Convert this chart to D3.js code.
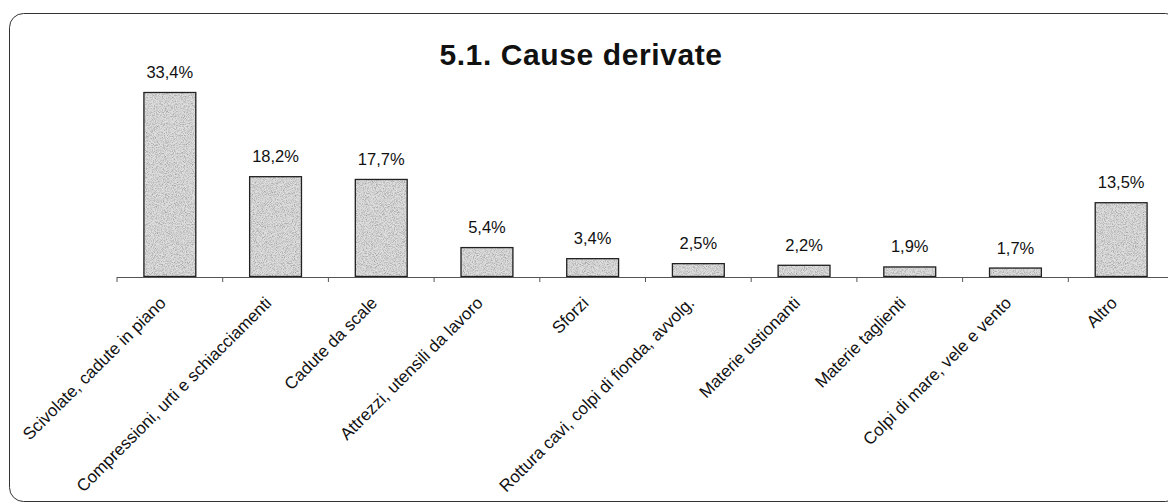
<!DOCTYPE html>
<html>
<head>
<meta charset="utf-8">
<script src="https://cdn.jsdelivr.net/npm/d3@7"></script>
<style>
  html, body { margin: 0; padding: 0; background: #fff; }
  svg { display: block; }
  text { font-family: Arial, "Liberation Sans", sans-serif; fill: #111; }
</style>
</head>
<body>
<svg id="chart" width="1168" height="504"></svg>
<script>
// Causes of injuries (share of total, %)
const categories = [
  "Scivolate, cadute in piano",
  "Compressioni, urti e schiacciamenti",
  "Cadute da scale",
  "Attrezzi, utensili da lavoro",
  "Sforzi",
  "Rottura cavi, colpi di fionda, avvolg.",
  "Materie ustionanti",
  "Materie taglienti",
  "Colpi di mare, vele e vento",
  "Altro"
];
const values = [33.4, 18.2, 17.7, 5.4, 3.4, 2.5, 2.2, 1.9, 1.7, 13.5];
const valueLabels = ["33,4%", "18,2%", "17,7%", "5,4%", "3,4%", "2,5%", "2,2%", "1,9%", "1,7%", "13,5%"];
const title = "5.1. Cause derivate";

const svg = d3.select("#chart");
const W = 1168, H = 504;

// speckled grey fill for the bars
const defs = svg.append("defs");
const f = defs.append("filter").attr("id", "speckle")
  .attr("x", 0).attr("y", 0).attr("width", 1).attr("height", 1);
f.append("feTurbulence").attr("type", "fractalNoise")
  .attr("baseFrequency", 1.1).attr("numOctaves", 2).attr("seed", 3).attr("result", "noise");
f.append("feColorMatrix").attr("in", "noise").attr("type", "matrix")
  .attr("values", "0 0 0 0 0.35  0 0 0 0 0.35  0 0 0 0 0.35  0 0 0 -2.2 1.35")
  .attr("result", "dots");
f.append("feFlood").attr("flood-color", "#dedede").attr("result", "base");
f.append("feComposite").attr("in", "dots").attr("in2", "base").attr("operator", "over").attr("result", "mix");
f.append("feComposite").attr("in", "mix").attr("in2", "SourceGraphic").attr("operator", "in");

// outer rounded frame
svg.append("rect")
  .attr("x", 9.5).attr("y", 13.5)
  .attr("width", 1170).attr("height", 488)
  .attr("rx", 14).attr("ry", 14)
  .attr("fill", "none").attr("stroke", "#333").attr("stroke-width", 1);

// title
svg.append("text")
  .attr("x", 581).attr("y", 65)
  .attr("text-anchor", "middle")
  .attr("font-size", 30).attr("font-weight", "bold")
  .attr("letter-spacing", 0.6)
  .text(title);

const baseY = 277;
const x = d3.scaleBand().domain(categories).range([117, 1174]).paddingInner(0.5).paddingOuter(0.25);
const y = d3.scaleLinear().domain([0, 33.4]).range([baseY, 92]);

// bars
const bars = svg.append("g");
bars.selectAll("rect.fill").data(values).join("rect")
  .attr("class", "fill")
  .attr("x", (d, i) => x(categories[i]))
  .attr("y", d => y(d))
  .attr("width", x.bandwidth())
  .attr("height", d => baseY - y(d))
  .attr("fill", "#ccc")
  .attr("filter", "url(#speckle)");
bars.selectAll("rect.edge").data(values).join("rect")
  .attr("class", "edge")
  .attr("x", (d, i) => x(categories[i]) + 0.5)
  .attr("y", d => y(d) + 0.5)
  .attr("width", x.bandwidth() - 1)
  .attr("height", d => baseY - y(d) - 1)
  .attr("fill", "none")
  .attr("stroke", "#222").attr("stroke-width", 1.3);

// value labels
svg.append("g").selectAll("text").data(values).join("text")
  .attr("x", (d, i) => x(categories[i]) + x.bandwidth() / 2)
  .attr("y", d => y(d) - 14)
  .attr("text-anchor", "middle")
  .attr("font-size", 16.5)
  .text((d, i) => valueLabels[i]);

// category axis with ticks at band boundaries
const step = x.step();
const x0 = 117;
const axisG = svg.append("g");
axisG.append("line")
  .attr("x1", x0).attr("x2", W).attr("y1", baseY + 0.5).attr("y2", baseY + 0.5)
  .attr("stroke", "#555").attr("stroke-width", 1.2);
axisG.selectAll("line.tick").data(d3.range(categories.length + 1)).join("line")
  .attr("class", "tick")
  .attr("x1", i => x0 + i * step).attr("x2", i => x0 + i * step)
  .attr("y1", baseY).attr("y2", baseY + 5)
  .attr("stroke", "#555");

// rotated category labels
axisG.selectAll("text").data(categories).join("text")
  .attr("transform", d => `translate(${x(d) + x.bandwidth() / 2 - 3},${baseY + 27}) rotate(-45)`)
  .attr("text-anchor", "end")
  .attr("font-size", 17)
  .text(d => d);
</script>
</body>
</html>
